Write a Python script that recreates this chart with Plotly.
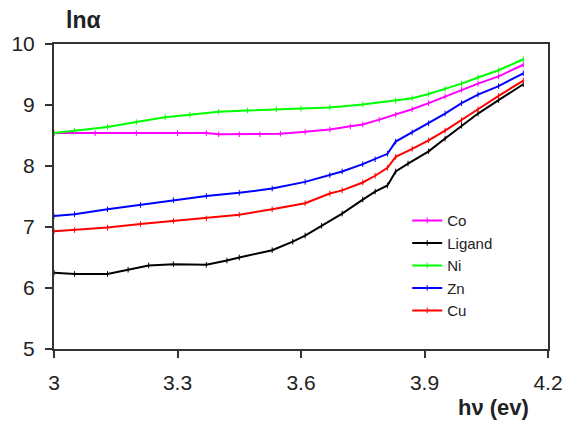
import plotly.graph_objects as go

# Data
co_x = [3.00, 3.10, 3.20, 3.30, 3.37, 3.40, 3.45, 3.50, 3.55, 3.61, 3.67, 3.72, 3.75, 3.79, 3.83, 3.87, 3.91, 3.95, 3.99, 4.03, 4.08, 4.14]
co_y = [8.54, 8.54, 8.54, 8.54, 8.54, 8.52, 8.52, 8.52, 8.53, 8.56, 8.60, 8.65, 8.68, 8.76, 8.84, 8.93, 9.03, 9.14, 9.25, 9.35, 9.47, 9.66]

lig_x = [3.00, 3.05, 3.13, 3.18, 3.23, 3.29, 3.37, 3.42, 3.45, 3.53, 3.58, 3.61, 3.65, 3.70, 3.75, 3.78, 3.81, 3.83, 3.86, 3.91, 3.95, 3.99, 4.03, 4.08, 4.14]
lig_y = [6.25, 6.23, 6.23, 6.30, 6.37, 6.39, 6.38, 6.45, 6.50, 6.62, 6.76, 6.86, 7.02, 7.22, 7.45, 7.58, 7.68, 7.91, 8.04, 8.24, 8.45, 8.66, 8.86, 9.08, 9.34]

ni_x = [3.00, 3.05, 3.13, 3.20, 3.27, 3.33, 3.40, 3.47, 3.54, 3.60, 3.67, 3.75, 3.83, 3.87, 3.91, 3.95, 3.99, 4.03, 4.08, 4.14]
ni_y = [8.54, 8.58, 8.64, 8.72, 8.80, 8.84, 8.89, 8.91, 8.93, 8.94, 8.96, 9.01, 9.07, 9.11, 9.18, 9.26, 9.35, 9.45, 9.57, 9.75]

zn_x = [3.00, 3.05, 3.13, 3.21, 3.29, 3.37, 3.45, 3.53, 3.61, 3.67, 3.70, 3.75, 3.78, 3.81, 3.83, 3.87, 3.91, 3.95, 3.99, 4.03, 4.08, 4.14]
zn_y = [7.18, 7.21, 7.29, 7.36, 7.44, 7.51, 7.56, 7.63, 7.74, 7.85, 7.91, 8.03, 8.11, 8.20, 8.40, 8.55, 8.70, 8.86, 9.03, 9.17, 9.31, 9.52]

cu_x = [3.00, 3.05, 3.13, 3.21, 3.29, 3.37, 3.45, 3.53, 3.61, 3.67, 3.70, 3.75, 3.78, 3.81, 3.83, 3.87, 3.91, 3.95, 3.99, 4.03, 4.08, 4.14]
cu_y = [6.93, 6.95, 6.99, 7.05, 7.10, 7.14, 7.20, 7.29, 7.39, 7.55, 7.60, 7.73, 7.84, 7.97, 8.15, 8.28, 8.42, 8.58, 8.75, 8.93, 9.15, 9.40]

series = [
    ("Co", co_x, co_y, "#FF00FF"),
    ("Ligand", lig_x, lig_y, "#000000"),
    ("Ni", ni_x, ni_y, "#00FF00"),
    ("Zn", zn_x, zn_y, "#0000FF"),
    ("Cu", cu_x, cu_y, "#FF0000"),
]

x_ticks = [3, 3.3, 3.6, 3.9, 4.2]
x_tick_text = ["3", "3.3", "3.6", "3.9", "4.2"]
y_ticks = [5, 6, 7, 8, 9, 10]

fig = go.Figure()
for name, xs, ys, col in series:
    fig.add_trace(go.Scatter(
        x=xs, y=ys, name=name, mode="lines+markers",
        line=dict(color=col, width=2),
        marker=dict(symbol="line-ns", size=4, color=col, line=dict(color=col, width=1)),
    ))

font_family = "Liberation Sans, Arial, sans-serif"
txt_col = "#222222"
fig.update_layout(
    width=568, height=423,
    margin=dict(l=54, r=20, t=44, b=74, autoexpand=False),
    paper_bgcolor="white", plot_bgcolor="white",
    font=dict(family=font_family, color=txt_col),
    showlegend=True,
    legend=dict(x=0.715, y=0.475, xanchor="left", yanchor="top",
                font=dict(size=15, family=font_family, color=txt_col),
                bgcolor="rgba(0,0,0,0)", tracegroupgap=0),
    xaxis=dict(range=[3, 4.2], tickvals=x_ticks, ticktext=x_tick_text,
               showline=True, linecolor="#333333", linewidth=2, mirror=True,
               ticks="outside", ticklen=7, tickwidth=2, tickcolor="#333333",
               ticklabelstandoff=7,
               showgrid=False, zeroline=False,
               tickfont=dict(size=21, family=font_family, color=txt_col)),
    yaxis=dict(range=[5, 10], tickvals=y_ticks,
               showline=True, linecolor="#333333", linewidth=2, mirror=True,
               ticks="outside", ticklen=7, tickwidth=2, tickcolor="#333333",
               ticklabelstandoff=6,
               showgrid=False, zeroline=False,
               tickfont=dict(size=21, family=font_family, color=txt_col)),
    annotations=[
        dict(text="<b>lnα</b>", xref="paper", yref="paper", x=0.02, y=1.0,
             xanchor="left", yanchor="bottom", yshift=9, showarrow=False,
             font=dict(size=23, family=font_family, color=txt_col)),
        dict(text="<b>hν (ev)</b>", xref="paper", yref="paper", x=0.965, y=0,
             xanchor="right", yanchor="top", yshift=-44, showarrow=False,
             font=dict(size=22, family=font_family, color=txt_col)),
    ],
)

fig.write_html("out.html")
